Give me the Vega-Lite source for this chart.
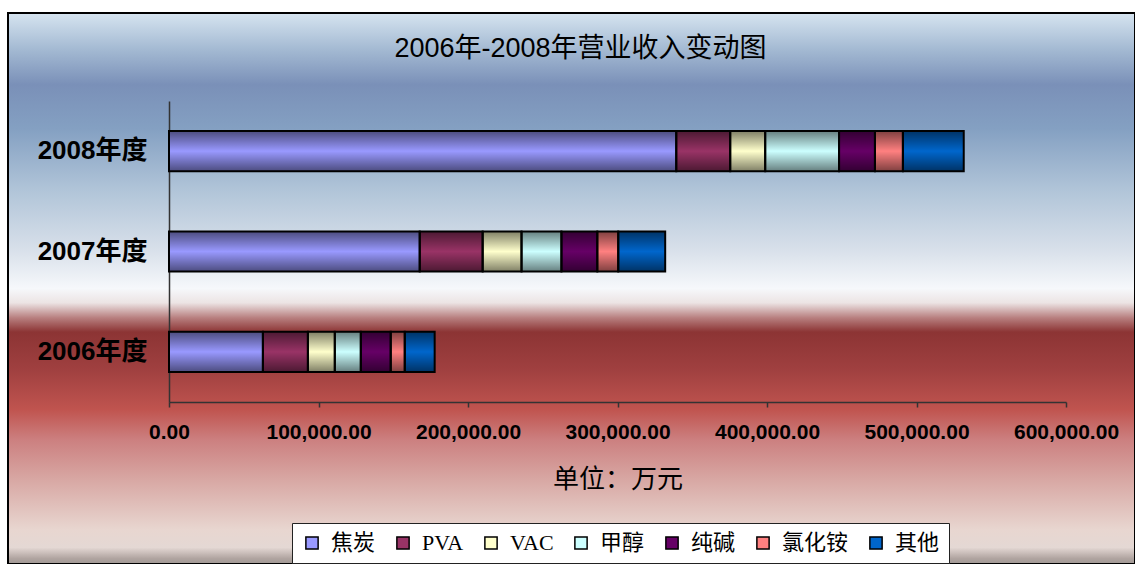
{
  "$schema": "https://vega.github.io/schema/vega-lite/v6.json",
  "width": 1127,
  "height": 551,
  "autosize": {"type": "none"},
  "padding": {"left": 8, "top": 13, "right": 0, "bottom": 0},
  "background": "white",
  "title": {
    "text": "2006年-2008年营业收入变动图",
    "anchor": "middle",
    "frame": "group",
    "offset": -50,
    "dx": 9,
    "fontSize": 27,
    "fontWeight": "normal",
    "font": "Liberation Sans, Noto Sans CJK SC",
    "color": "black"
  },
  "config": {
    "view": {
      "fill": {
        "gradient": "linear", "x1": 0, "y1": 0, "x2": 0, "y2": 1,
        "stops": [
          {"offset": 0, "color": "#d6e4f0"},
          {"offset": 0.067, "color": "#a3b9d2"},
          {"offset": 0.13, "color": "#7a90b8"},
          {"offset": 0.21, "color": "#84a0c2"},
          {"offset": 0.32, "color": "#b0c4d8"},
          {"offset": 0.43, "color": "#d8e0ea"},
          {"offset": 0.5, "color": "#f6f8fb"},
          {"offset": 0.526, "color": "#ece4e4"},
          {"offset": 0.553, "color": "#b88080"},
          {"offset": 0.579, "color": "#8c3434"},
          {"offset": 0.648, "color": "#a04040"},
          {"offset": 0.72, "color": "#c0544f"},
          {"offset": 0.775, "color": "#cc8080"},
          {"offset": 0.848, "color": "#d8a8a4"},
          {"offset": 0.938, "color": "#e8d6d0"},
          {"offset": 0.97, "color": "#e4d8d4"},
          {"offset": 0.99, "color": "#b0a4a0"},
          {"offset": 1, "color": "#a09894"}
        ]
      },
      "stroke": "black",
      "strokeWidth": 2
    }
  },
  "data": {
    "values": [
      {"year": "2008年度", "product": "焦炭", "idx": 1, "value": 339300},
      {"year": "2008年度", "product": "PVA", "idx": 2, "value": 36100},
      {"year": "2008年度", "product": "VAC", "idx": 3, "value": 23400},
      {"year": "2008年度", "product": "甲醇", "idx": 4, "value": 49400},
      {"year": "2008年度", "product": "纯碱", "idx": 5, "value": 24000},
      {"year": "2008年度", "product": "氯化铵", "idx": 6, "value": 18700},
      {"year": "2008年度", "product": "其他", "idx": 7, "value": 40700},
      {"year": "2007年度", "product": "焦炭", "idx": 1, "value": 167700},
      {"year": "2007年度", "product": "PVA", "idx": 2, "value": 42100},
      {"year": "2007年度", "product": "VAC", "idx": 3, "value": 26000},
      {"year": "2007年度", "product": "甲醇", "idx": 4, "value": 26700},
      {"year": "2007年度", "product": "纯碱", "idx": 5, "value": 24000},
      {"year": "2007年度", "product": "氯化铵", "idx": 6, "value": 14000},
      {"year": "2007年度", "product": "其他", "idx": 7, "value": 31400},
      {"year": "2006年度", "product": "焦炭", "idx": 1, "value": 62800},
      {"year": "2006年度", "product": "PVA", "idx": 2, "value": 30100},
      {"year": "2006年度", "product": "VAC", "idx": 3, "value": 18000},
      {"year": "2006年度", "product": "甲醇", "idx": 4, "value": 17400},
      {"year": "2006年度", "product": "纯碱", "idx": 5, "value": 20000},
      {"year": "2006年度", "product": "氯化铵", "idx": 6, "value": 9400},
      {"year": "2006年度", "product": "其他", "idx": 7, "value": 20000}
    ]
  },
  "encoding": {
    "y": {
      "field": "year", "type": "nominal",
      "sort": ["2008年度", "2007年度", "2006年度"],
      "scale": {"range": [88, 389], "paddingInner": 0.6, "paddingOuter": 0.3},
      "axis": {
        "title": null, "offset": -161, "ticks": false, "domainColor": "#333333", "domainWidth": 1.5,
        "labelFont": "Liberation Sans, Noto Sans CJK SC", "labelFontSize": 26, "labelFontWeight": "bold",
        "labelColor": "black", "labelPadding": 22
      }
    },
    "x": {
      "field": "value", "type": "quantitative", "stack": "zero",
      "scale": {"domain": [0, 600000], "range": [161, 1058], "nice": false, "zero": true},
      "axis": {
        "title": "单位：万元", "offset": -162, "values": [0, 100000, 200000, 300000, 400000, 500000, 600000],
        "format": ",.2f", "grid": false, "domainColor": "#333333", "domainWidth": 1.5,
        "tickColor": "#333333", "tickSize": 5, "tickWidth": 1.5,
        "labelOverlap": false, "labelBound": false, "labelFlush": false,
        "labelFont": "Liberation Sans, Noto Sans CJK SC", "labelFontSize": 21, "labelFontWeight": "bold",
        "labelColor": "black", "labelPadding": 14,
        "titleFont": "Liberation Serif, Noto Sans CJK SC", "titleFontSize": 26, "titleFontWeight": "normal",
        "titleColor": "black", "titlePadding": 24
      }
    },
    "order": {"field": "idx", "type": "quantitative"}
  },
  "layer": [
    {
      "mark": {"type": "bar"},
      "encoding": {
        "color": {
          "field": "product", "type": "nominal",
          "scale": {
            "domain": ["焦炭", "PVA", "VAC", "甲醇", "纯碱", "氯化铵", "其他"],
            "range": ["#9999ff", "#993366", "#ffffcc", "#ccffff", "#660066", "#ff8080", "#0066cc"]
          },
          "legend": {
            "title": null, "orient": "none", "direction": "horizontal",
            "legendX": 284, "legendY": 510,
            "fillColor": "white", "strokeColor": "#222222", "padding": 9,
            "symbolType": "square", "symbolSize": 150, "symbolStrokeColor": "black", "symbolStrokeWidth": 1.5,
            "symbolOpacity": 1,
            "labelFont": "Liberation Serif, Noto Sans CJK SC", "labelFontSize": 22, "labelColor": "black",
            "labelOffset": 8, "columnPadding": 16
          }
        }
      }
    },
    {
      "mark": {
        "type": "bar",
        "stroke": "black",
        "strokeWidth": 2,
        "fill": {
          "gradient": "linear", "x1": 0, "y1": 0, "x2": 0, "y2": 1,
          "stops": [
            {"offset": 0, "color": "rgba(0,0,0,0.5)"},
            {"offset": 0.5, "color": "rgba(0,0,0,0)"},
            {"offset": 1, "color": "rgba(0,0,0,0.5)"}
          ]
        }
      },
      "encoding": {}
    }
  ]
}
